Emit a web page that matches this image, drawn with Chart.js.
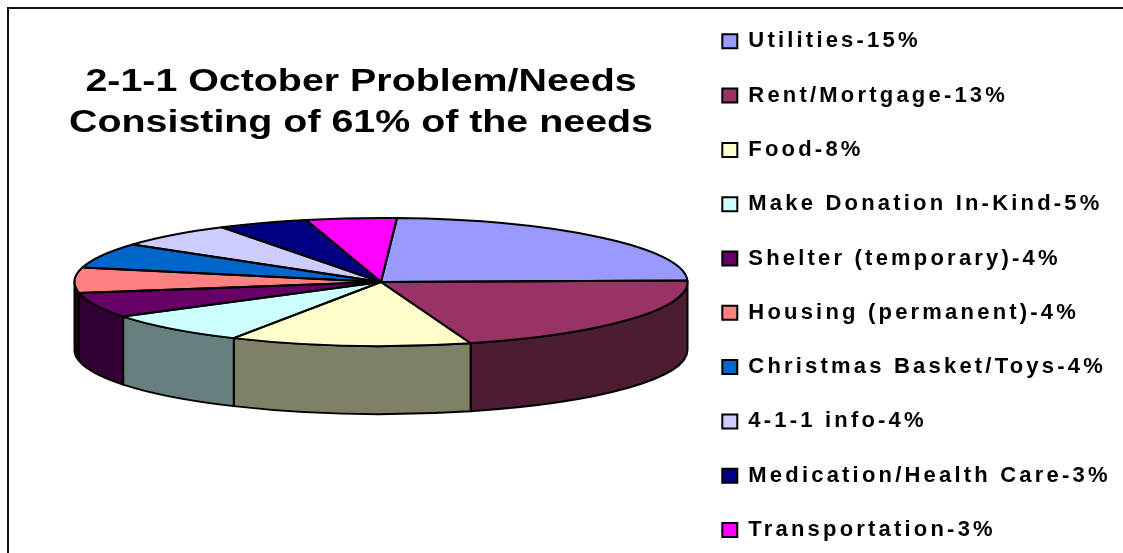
<!DOCTYPE html>
<html>
<head>
<meta charset="utf-8">
<title>2-1-1 October Problem/Needs</title>
<style>
  html, body { margin: 0; padding: 0; background: #fff; overflow: hidden; }
  #wrap { position: relative; width: 1123px; height: 553px; overflow: hidden; }
  #frame { position: absolute; left: 7px; top: 7px; width: 1130px; height: 600px; border: 2px solid #111; }
  #needsChart { position: absolute; left: 0; top: 0; }
</style>
</head>
<body>
<div id="wrap">
  <div id="frame"></div>
  <div style="position:absolute;left:0;top:0;width:1123px;height:620px"><canvas id="needsChart"></canvas></div>
</div>
<script src="https://cdn.jsdelivr.net/npm/chart.js@4"></script>
<script>
const titleLines = ["2-1-1 October Problem/Needs", "Consisting of 61% of the needs"];
const categories = ["Utilities", "Rent/Mortgage", "Food", "Make Donation In-Kind", "Shelter (temporary)",
  "Housing (permanent)", "Christmas Basket/Toys", "4-1-1 info", "Medication/Health Care", "Transportation"];
const percents = [15, 13, 8, 5, 4, 4, 4, 4, 3, 3];
const topColors = ["#9999ff", "#993366", "#ffffcc", "#ccffff", "#660066",
  "#ff8080", "#0066cc", "#ccccff", "#000080", "#ff00ff"];
const sideColors = ["#4d4d80", "#4c1c33", "#808066", "#668080", "#330033",
  "#1a0011", "#003366", "#666680", "#000040", "#800080"];

// tilted disc: where the flattened pie lands on the page
const disc = { x: 381, y: 282, rx: 306.5, ry: 64, depth: 68 };
const legendLeft = 690;
const legendTop = -2;
const labelSpacing = "3.2px";

function sidePath(ctx, a, b) {
  ctx.beginPath();
  ctx.ellipse(disc.x, disc.y, disc.rx, disc.ry, 0, a, b);
  ctx.ellipse(disc.x, disc.y + disc.depth, disc.rx, disc.ry, 0, b, a, true);
  ctx.closePath();
}

const tiltedPie = {
  id: "tiltedPie",
  beforeUpdate(chart) {
    chart.ctx.letterSpacing = labelSpacing;
  },
  afterLayout(chart) {
    chart.legend.left = legendLeft;
    chart.legend.top = legendTop;
  },
  beforeDatasetsDraw(chart) {
    const ctx = chart.ctx;
    const arcs = chart.getDatasetMeta(0).data;
    ctx.save();
    ctx.lineWidth = 2;
    ctx.lineJoin = "round";
    ctx.strokeStyle = "#000";
    arcs.forEach((arc, i) => {
      // only the part of a slice on the near half shows a wall
      const a = Math.max(arc.startAngle, 0);
      const b = Math.min(arc.endAngle, Math.PI);
      if (b <= a) return;
      sidePath(ctx, a, b);
      ctx.fillStyle = sideColors[i];
      ctx.fill();
      ctx.stroke();
    });
    ctx.restore();
    // squash the library's own arcs into the top face
    const first = arcs[0];
    ctx.save();
    ctx.translate(disc.x, disc.y);
    ctx.scale(disc.rx / first.outerRadius, disc.ry / first.outerRadius);
    ctx.translate(-first.x, -first.y);
  },
  afterDatasetsDraw(chart) {
    const ctx = chart.ctx;
    ctx.restore();
    ctx.save();
    ctx.lineWidth = 2;
    ctx.lineJoin = "round";
    ctx.strokeStyle = "#000";
    chart.getDatasetMeta(0).data.forEach(arc => {
      ctx.beginPath();
      ctx.moveTo(disc.x, disc.y);
      ctx.ellipse(disc.x, disc.y, disc.rx, disc.ry, 0, arc.startAngle, arc.endAngle);
      ctx.closePath();
      ctx.stroke();
    });
    ctx.restore();
  },
  afterDraw(chart) {
    // title is set wide, so it gets a horizontal stretch around its centre line
    const ctx = chart.ctx;
    ctx.save();
    ctx.letterSpacing = "0px";
    ctx.font = "bold 32px 'Liberation Sans', Arial, sans-serif";
    ctx.fillStyle = "#000";
    ctx.textAlign = "center";
    ctx.textBaseline = "alphabetic";
    ctx.translate(361, 0);
    ctx.scale(1.23, 1);
    ctx.fillText(titleLines[0], 0, 91);
    ctx.fillText(titleLines[1], 0, 132);
    ctx.restore();
  }
};

new Chart(document.getElementById("needsChart"), {
  type: "pie",
  plugins: [tiltedPie],
  data: {
    labels: categories.map((c, i) => c + "-" + percents[i] + "%"),
    datasets: [{
      data: percents,
      backgroundColor: topColors,
      borderWidth: 0,
      clip: false
    }]
  },
  options: {
    responsive: true,
    maintainAspectRatio: false,
    animation: false,
    events: [],
    rotation: 3,
    layout: { padding: { top: 4, bottom: 4, left: 20 } },
    plugins: {
      tooltip: { enabled: false },
      title: { display: false },
      legend: {
        position: "right",
        align: "start",
        labels: {
          boxWidth: 15,
          boxHeight: 14,
          padding: 32.3,
          color: "#000",
          font: { family: "'Liberation Sans', Arial, sans-serif", size: 22, weight: "bold" },
          generateLabels(chart) {
            return categories.map((c, i) => ({
              text: chart.data.labels[i],
              fillStyle: topColors[i],
              strokeStyle: "#000",
              lineWidth: 2,
              fontColor: "#000",
              index: i
            }));
          }
        }
      }
    }
  }
});
</script>
</body>
</html>
